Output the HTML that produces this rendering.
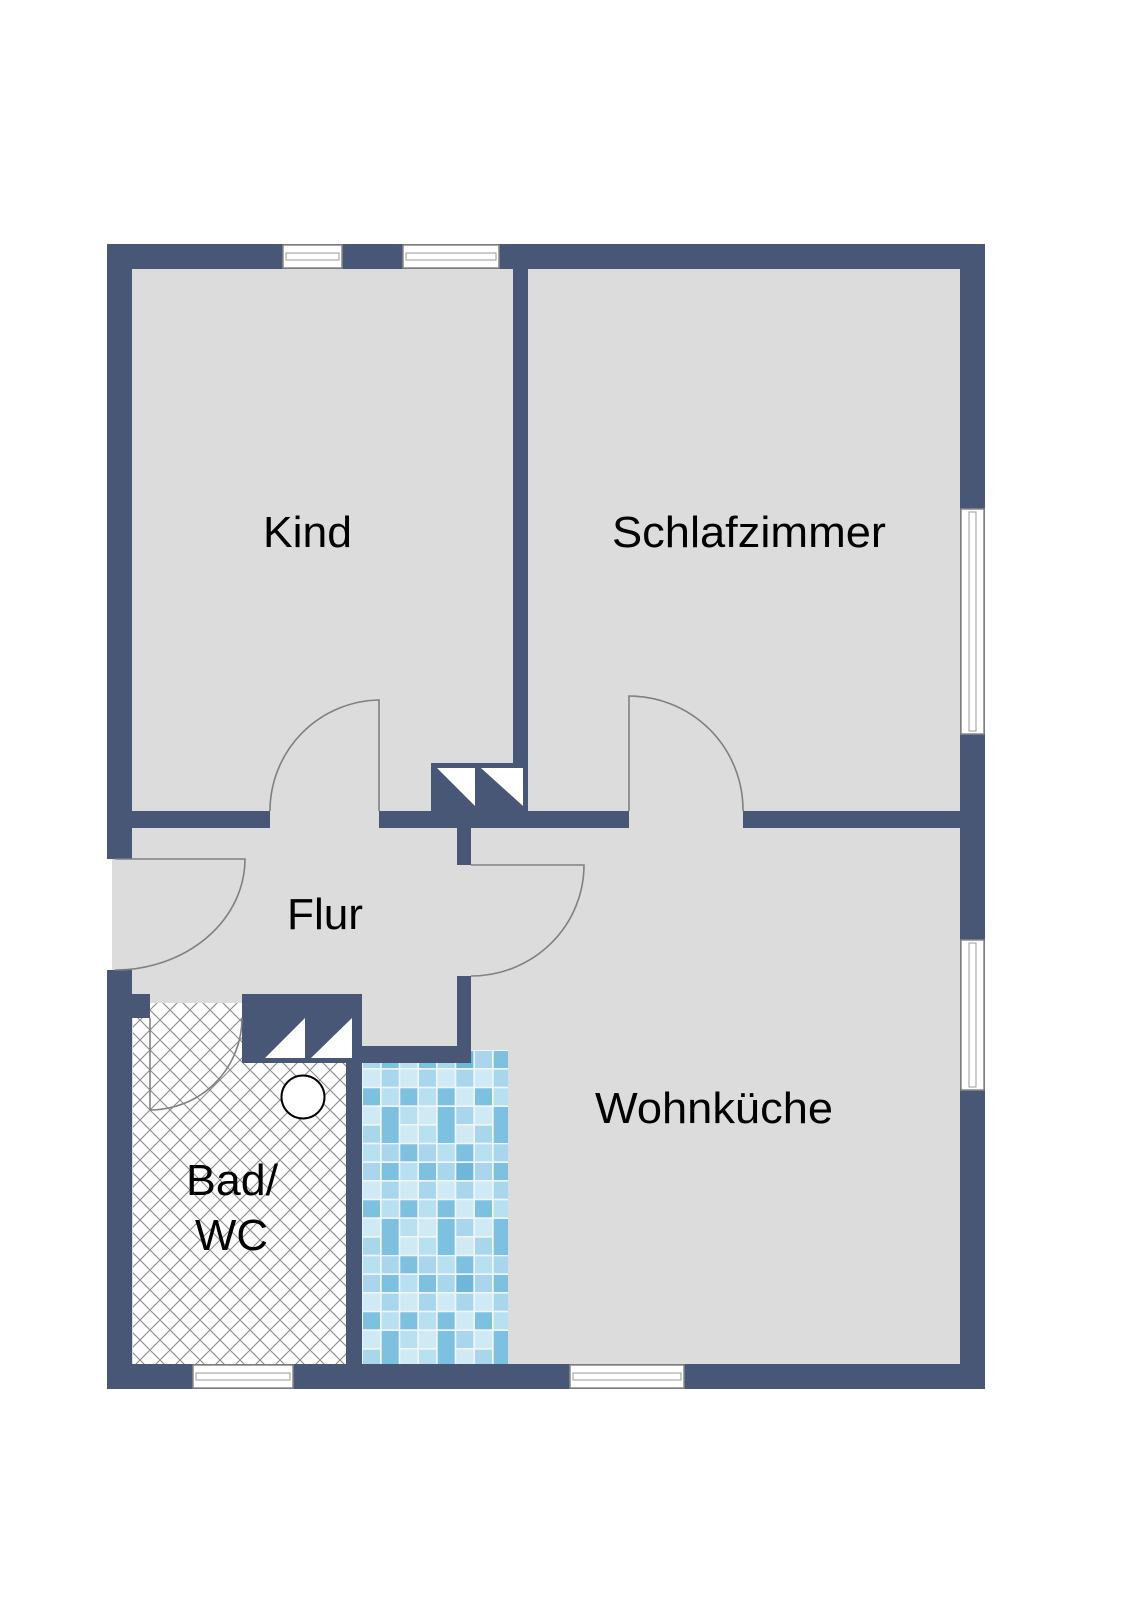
<!DOCTYPE html>
<html><head><meta charset="utf-8"><style>html,body{margin:0;padding:0;background:#fff}svg{display:block}</style></head>
<body>
<svg width="1131" height="1600" viewBox="0 0 1131 1600" xmlns="http://www.w3.org/2000/svg">
<defs>
<pattern id="hatch" width="20" height="20" patternUnits="userSpaceOnUse">
<rect width="20" height="20" fill="#fff"/>
<path d="M0 0L20 20M20 0L0 20" stroke="#8a8a8a" stroke-width="1.1"/>
</pattern>
<pattern id="tiles" x="362" y="1050" width="112" height="112" patternUnits="userSpaceOnUse">
<rect width="112" height="112" fill="#eef6fa"/>
<g stroke="none">
<rect x="1" y="1" width="17" height="17" fill="#a9d6ec"/><rect x="19.7" y="1" width="17" height="17" fill="#7ec0e0"/><rect x="38.3" y="1" width="17" height="17" fill="#b9e0f1"/><rect x="57" y="1" width="17" height="17" fill="#7ec0e0"/><rect x="75.7" y="1" width="17" height="17" fill="#a9d6ec"/><rect x="94.3" y="1" width="17" height="17" fill="#6fb6da"/>
<rect x="1" y="19.7" width="17" height="17" fill="#cfe9f5"/><rect x="19.7" y="19.7" width="17" height="17" fill="#a9d6ec"/><rect x="38.3" y="19.7" width="17" height="17" fill="#cfe9f5"/><rect x="57" y="19.7" width="17" height="17" fill="#a9d6ec"/><rect x="75.7" y="19.7" width="17" height="17" fill="#cfe9f5"/><rect x="94.3" y="19.7" width="17" height="17" fill="#a9d6ec"/>
<rect x="1" y="38.3" width="17" height="17" fill="#7ec0e0"/><rect x="19.7" y="38.3" width="17" height="17" fill="#b9e0f1"/><rect x="38.3" y="38.3" width="17" height="17" fill="#7ec0e0"/><rect x="57" y="38.3" width="17" height="17" fill="#b9e0f1"/><rect x="75.7" y="38.3" width="17" height="17" fill="#7ec0e0"/><rect x="94.3" y="38.3" width="17" height="17" fill="#cfe9f5"/>
<rect x="1" y="57" width="17" height="17" fill="#cfe9f5"/><rect x="19.7" y="57" width="17" height="36" fill="#7ec0e0"/><rect x="38.3" y="57" width="17" height="17" fill="#b9e0f1"/><rect x="57" y="57" width="17" height="17" fill="#cfe9f5"/><rect x="75.7" y="57" width="17" height="36" fill="#7ec0e0"/><rect x="94.3" y="57" width="17" height="17" fill="#a9d6ec"/>
<rect x="1" y="75.7" width="17" height="17" fill="#a9d6ec"/><rect x="38.3" y="75.7" width="17" height="17" fill="#cfe9f5"/><rect x="57" y="75.7" width="17" height="17" fill="#b9e0f1"/><rect x="94.3" y="75.7" width="17" height="17" fill="#cfe9f5"/>
<rect x="1" y="94.3" width="17" height="17" fill="#b9e0f1"/><rect x="19.7" y="94.3" width="17" height="17" fill="#a9d6ec"/><rect x="38.3" y="94.3" width="17" height="17" fill="#7ec0e0"/><rect x="57" y="94.3" width="17" height="17" fill="#a9d6ec"/><rect x="75.7" y="94.3" width="17" height="17" fill="#b9e0f1"/><rect x="94.3" y="94.3" width="17" height="17" fill="#7ec0e0"/>
</g>
</pattern>
</defs>
<rect x="130" y="267" width="832" height="1100" fill="#dcdcdc"/>
<rect x="112" y="857" width="22" height="115" fill="#dcdcdc"/>
<rect x="133" y="1003" width="213" height="362" fill="url(#hatch)"/>
<rect x="362" y="1050" width="146" height="315" fill="url(#tiles)"/>
<g fill="#475775">
<rect x="107" y="244" width="878" height="25"/>
<rect x="107" y="1364" width="878" height="25"/>
<rect x="960" y="244" width="25" height="1145"/>
<rect x="107" y="244" width="25" height="615"/>
<rect x="107" y="970" width="25" height="419"/>
<rect x="513" y="244" width="15" height="570"/>
<rect x="107" y="811" width="163" height="17"/>
<rect x="379" y="811" width="250" height="17"/>
<rect x="743" y="811" width="220" height="17"/>
<rect x="431" y="763" width="97" height="50"/>
<rect x="457" y="826" width="14" height="39"/>
<rect x="457" y="976" width="14" height="87"/>
<rect x="346" y="1046" width="125" height="17"/>
<rect x="346" y="994" width="16" height="372"/>
<rect x="242" y="994" width="120" height="69"/>
<rect x="132" y="994" width="18" height="24"/>
</g>
<g fill="#fff">
<polygon points="437,768 475,768 475,806"/>
<polygon points="481,768 523,768 523,806"/>
<polygon points="265,1058 305,1018 305,1058"/>
<polygon points="311,1058 352,1018 352,1058"/>
</g>
<g fill="#fff" stroke="#888" stroke-width="1.5">
<rect x="283" y="245" width="59" height="23"/>
<rect x="403" y="245" width="96" height="23"/>
<rect x="193" y="1365" width="100" height="23"/>
<rect x="570" y="1365" width="114" height="23"/>
<rect x="961" y="509" width="23" height="225"/>
<rect x="961" y="940" width="23" height="150"/>
</g>
<g fill="none" stroke="#999" stroke-width="1">
<rect x="286" y="253" width="53" height="7"/>
<rect x="406" y="253" width="90" height="7"/>
<rect x="196" y="1373" width="94" height="7"/>
<rect x="573" y="1373" width="108" height="7"/>
<rect x="969" y="512" width="7" height="219"/>
<rect x="969" y="943" width="7" height="144"/>
</g>
<g fill="none" stroke="#808080" stroke-width="1.6">
<path d="M379 811 V700 A111 111 0 0 0 270 811"/>
<path d="M629 811 V696 A114 114 0 0 1 743 811"/>
<path d="M115 859 H245 A130 111 0 0 1 115 970"/>
<path d="M471 865 H584 A113 111 0 0 1 471 976"/>
<path d="M150 1018 V1110 A92 92 0 0 0 242 1018"/>
</g>
<circle cx="303" cy="1097" r="21.5" fill="#fff" stroke="#000" stroke-width="2"/>
<g font-family="Liberation Sans, Arial, sans-serif" font-size="44" fill="#000">
<text x="263" y="547" textLength="89" lengthAdjust="spacingAndGlyphs">Kind</text>
<text x="612" y="547" textLength="274" lengthAdjust="spacingAndGlyphs">Schlafzimmer</text>
<text x="287" y="929" textLength="76" lengthAdjust="spacingAndGlyphs">Flur</text>
<text x="595" y="1123" textLength="238" lengthAdjust="spacingAndGlyphs">Wohnküche</text>
<text x="186" y="1195" textLength="92" lengthAdjust="spacingAndGlyphs">Bad/</text>
<text x="195" y="1250" textLength="73" lengthAdjust="spacingAndGlyphs">WC</text>
</g>
</svg>
</body></html>
